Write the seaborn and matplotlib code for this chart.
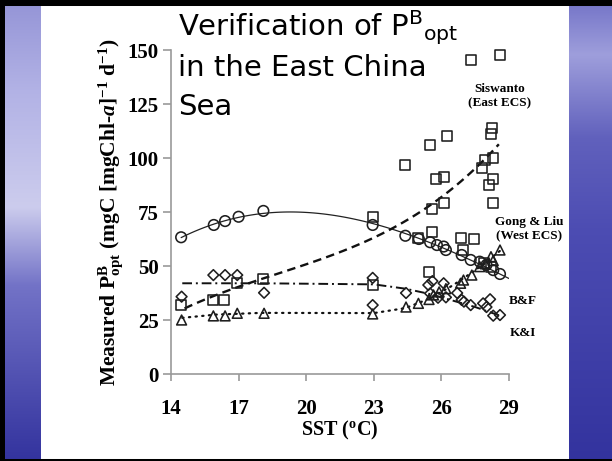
# Verification of PBopt in the East China Sea - slide chart
import numpy as np
import matplotlib
matplotlib.use("Agg")
import matplotlib.pyplot as plt
import seaborn as sns

circle_sst = [14.45, 15.9, 16.4, 17.0, 18.1, 22.95, 24.4, 25.0, 25.5, 25.8, 26.1, 26.2,
              26.9, 27.3, 27.7, 28.0, 28.3, 28.6]
circle_pb = [63.3, 69.0, 70.8, 72.8, 75.5, 69.0, 64.0, 62.5, 61.0, 59.7, 59.0, 57.4,
             55.1, 52.8, 52.0, 50.5, 48.1, 46.3]

square_sst = [14.45, 15.85, 16.35, 16.95, 18.1, 22.95, 22.95, 24.4, 24.95, 25.45, 25.5,
              25.6, 25.6, 25.75, 26.1, 26.1, 26.25, 26.85, 26.95, 27.3, 27.45, 27.8,
              27.95, 28.1, 28.2, 28.25, 28.3, 28.3, 28.3, 28.6, 27.9, 28.2]
square_pb = [31.9, 34.3, 34.3, 42.3, 43.8, 72.5, 41.2, 96.7, 62.8, 47.4, 106.0,
             65.9, 76.2, 90.2, 79.1, 91.0, 110.2, 62.8, 57.4, 145.4, 62.5, 95.2,
             99.1, 87.3, 111.2, 113.7, 99.8, 90.4, 79.1, 147.7, 51.5, 49.5]

diamond_sst = [14.47, 15.88, 16.4, 16.94, 18.13, 22.95, 22.95, 24.43, 25.42, 25.6, 25.5,
               25.85, 26.1, 26.2, 26.7, 26.9, 27.0, 27.3, 27.85, 28.0, 28.16, 28.3, 28.6]
diamond_pb = [35.8, 45.8, 45.8, 45.8, 37.6, 44.5, 31.9, 37.5, 41.2, 43.0, 37.3,
              35.3, 42.0, 35.5, 37.5, 34.3, 33.5, 31.9, 32.7, 31.0, 34.6, 27.0, 27.3]

triangle_sst = [14.47, 15.88, 16.4, 16.94, 18.13, 22.95, 24.43, 24.98, 25.45, 25.65, 25.9,
                26.2, 26.85, 26.98, 27.35, 27.7, 27.95, 28.2, 28.3, 28.6]
triangle_pb = [25.0, 26.9, 26.9, 28.1, 28.1, 27.8, 31.0, 32.7, 34.5, 36.6, 38.0,
               39.5, 42.0, 43.5, 45.8, 49.7, 51.0, 54.3, 52.5, 57.4]

# model curves
gong_sst = [14.45, 15.9, 17.0, 18.1, 19.7, 21.65, 22.9, 24.3, 25.5, 27.0, 28.0, 29.0]
gong_pb = [63.3, 69.0, 72.5, 74.6, 75.1, 72.8, 69.7, 65.1, 60.5, 54.5, 49.8, 43.8]

sis_sst = [14.6, 16.5, 18.1, 20.0, 21.2, 22.7, 24.2, 25.6, 26.5, 27.7, 28.55]
sis_pb = [30.5, 38.5, 43.8, 50.5, 55.9, 62.0, 69.8, 78.2, 86.0, 96.8, 106.8]

bf_sst = [14.5, 18.0, 23.0, 24.4, 25.5, 26.5, 27.5, 28.6]
bf_pb = [42.0, 42.0, 41.5, 39.5, 37.0, 34.0, 31.0, 27.0]

ki_sst = [14.5, 16.0, 18.0, 23.0, 24.4, 25.5, 26.5, 27.5, 28.6]
ki_pb = [26.0, 27.5, 28.3, 28.2, 30.5, 35.0, 41.0, 48.0, 57.0]

x_ticks = [14, 17, 20, 23, 26, 29]
y_ticks = [0, 25, 50, 75, 100, 125, 150]

sns.set_style("ticks")
plt.rcParams['font.family'] = ['Liberation Serif', 'DejaVu Serif']
plt.rcParams['text.color'] = 'black'
plt.rcParams['axes.labelcolor'] = 'black'
plt.rcParams['mathtext.fontset'] = 'custom'
plt.rcParams['mathtext.rm'] = 'Liberation Serif'
plt.rcParams['mathtext.bf'] = 'Liberation Serif:bold'
plt.rcParams['mathtext.it'] = 'Liberation Serif:italic'
plt.rcParams['mathtext.bfit'] = 'Liberation Serif:italic:bold'

W, H = 612, 461
fig = plt.figure(figsize=(W / 100, H / 100), dpi=100)

# slide background: blue strips on both sides, black frame top/left
rows = np.linspace(0, 1, H)
left_stops = [0, 0.2, 0.45, 0.62, 1.0]
left_rgb = [(0.58, 0.58, 0.84), (0.70, 0.70, 0.90), (0.80, 0.80, 0.93), (0.45, 0.45, 0.78), (0.20, 0.20, 0.62)]
right_stops = [0, 0.12, 0.3, 0.5, 1.0]
right_rgb = [(0.45, 0.45, 0.78), (0.62, 0.62, 0.86), (0.38, 0.38, 0.74), (0.30, 0.30, 0.70), (0.20, 0.20, 0.62)]
left_col = np.stack([np.interp(rows, left_stops, [c[i] for c in left_rgb]) for i in range(3)], axis=1)
right_col = np.stack([np.interp(rows, right_stops, [c[i] for c in right_rgb]) for i in range(3)], axis=1)
img = np.ones((H, W, 3))
img[:, 5:41] = left_col[:, None, :]
img[:, 569:] = right_col[:, None, :]
img[:7, :] = 0
img[:, :5] = 0
img[459:, :] = 0
bg = fig.add_axes([0, 0, 1, 1])
bg.imshow(img, aspect='auto', interpolation='bilinear')
bg.axis('off')
bg.set_zorder(0)

ax = fig.add_axes([171 / W, 1 - 374 / H, 338 / W, 324 / H])
ax.set_zorder(1)
ax.patch.set_alpha(0)

edge = '#1e1e1e'
mk = dict(facecolors='none', edgecolor=edge, linewidth=1.15, ax=ax, clip_on=False, zorder=3)
sns.scatterplot(x=circle_sst, y=circle_pb, marker='o', s=58, **mk)
sns.scatterplot(x=square_sst, y=square_pb, marker='s', s=52, **mk)
sns.scatterplot(x=diamond_sst, y=diamond_pb, marker='D', s=30, **mk)
sns.scatterplot(x=triangle_sst, y=triangle_pb, marker='^', s=50, **mk)

# smooth fits through the traced curve points
sns.regplot(x=gong_sst, y=gong_pb, order=3, ci=None, scatter=False, ax=ax,
            line_kws=dict(color='#222222', linewidth=0.9, zorder=2))
sns.regplot(x=sis_sst, y=sis_pb, order=3, ci=None, scatter=False, ax=ax,
            line_kws=dict(color='#111111', linewidth=1.7, linestyle=(0, (3.6, 2.2)), zorder=2))
sns.lineplot(x=bf_sst, y=bf_pb, color='#111111', linewidth=1.4,
             linestyle=(0, (5, 2, 1, 2)), ax=ax, zorder=2)
sns.lineplot(x=ki_sst, y=ki_pb, color='#111111', linewidth=1.6,
             linestyle=(0, (0.6, 2.4)), dash_capstyle='round', ax=ax, zorder=2)

ax.set_xlim(14, 29)
ax.set_ylim(0, 150)
ax.set_xticks(x_ticks)
ax.set_yticks(y_ticks)
sns.despine(ax=ax)
for side in ['left', 'bottom']:
    ax.spines[side].set_color('#9a9a9a')
    ax.spines[side].set_linewidth(1.2)
ax.tick_params(axis='x', colors='#9a9a9a', length=5, width=1.2, pad=13, labelcolor='black')
ax.tick_params(axis='y', colors='#9a9a9a', length=6, width=1.2, pad=3, labelcolor='black')
for lab in ax.get_xticklabels() + ax.get_yticklabels():
    lab.set_fontsize(15)
    lab.set_fontweight('bold')

ax.set_xlabel(r'SST ($^{\mathbf{o}}$C)', fontsize=14.5, fontweight='bold', labelpad=0)
ax.set_ylabel(r'Measured P$^{\mathbf{B}}_{\mathbf{opt}}$ (mgC [mgChl-$\mathbfit{a}$]$^{\mathbf{-1}}$ d$^{\mathbf{-1}}$)',
              fontsize=15.5, fontweight='bold', labelpad=2)

note = dict(fontsize=9.5, fontweight='bold', ha='center', va='center', clip_on=False)
ax.text(28.6, 128.7, 'Siswanto\n(East ECS)', **note)
ax.text(29.9, 67.1, 'Gong & Liu\n(West ECS)', **note)
ax.text(29.6, 33.8, 'B&F', **note)
ax.text(29.6, 19.0, 'K&I', **note)

# slide title
title_kw = dict(fontsize=21, family='DejaVu Sans', math_fontfamily='dejavusans',
                color='black', ha='left', va='baseline', zorder=5)
fig.text(178 / W, 1 - 36 / H, r'Verification of P$^{\mathrm{B}}$$_{\mathrm{opt}}$', **title_kw)
fig.text(178 / W, 1 - 75.5 / H, 'in the East China', **title_kw)
fig.text(178 / W, 1 - 115 / H, 'Sea', **title_kw)

fig.savefig('out.png', dpi=100)
